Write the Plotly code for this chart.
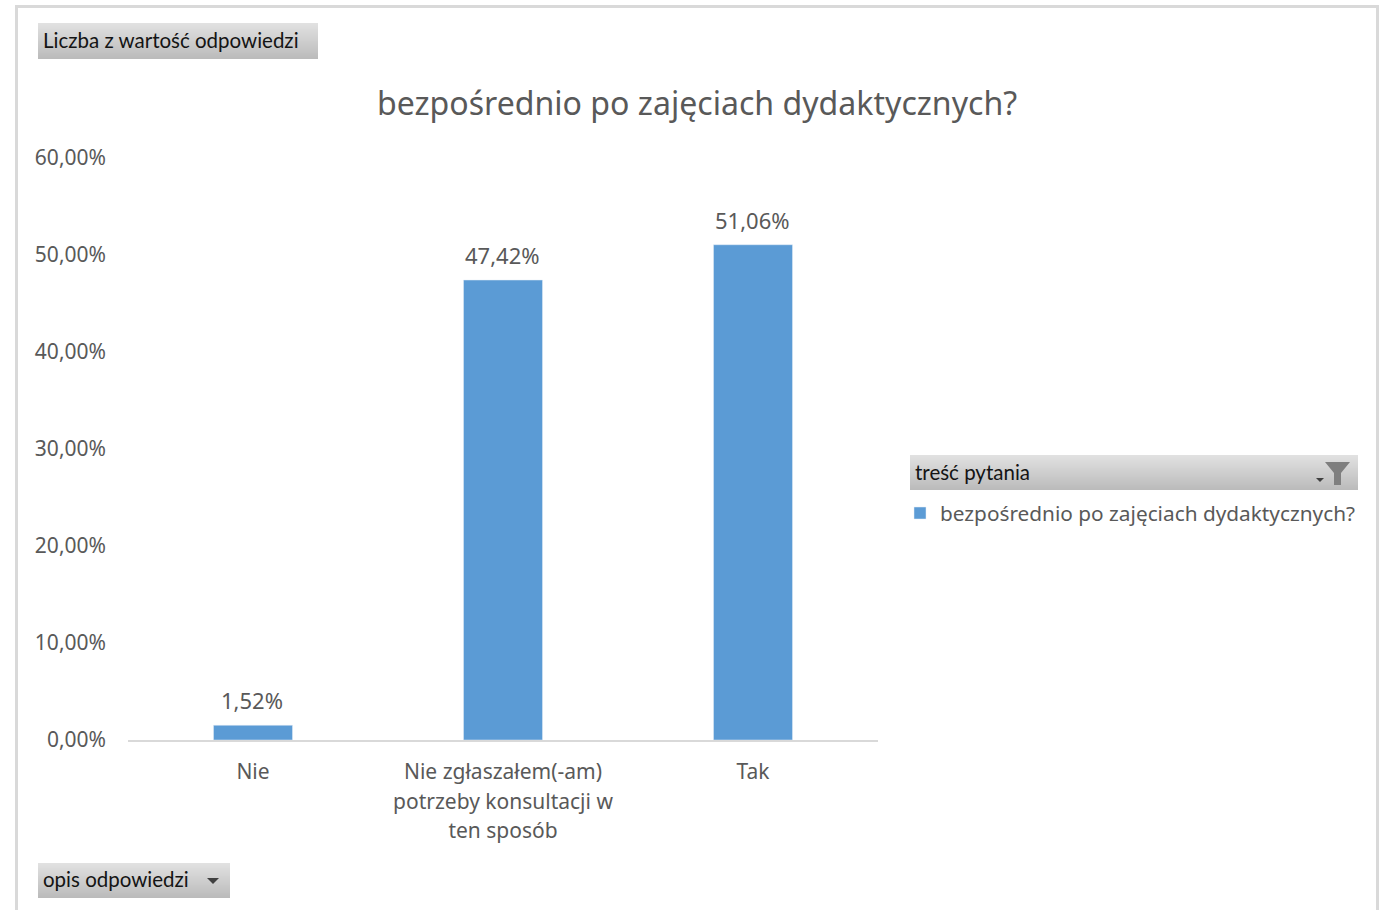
import plotly.graph_objects as go

categories = ["Nie", "Nie zgłaszałem(-am)<br>potrzeby konsultacji w<br>ten sposób", "Tak"]
values = [0.0152, 0.4742, 0.5106]
series_name = "bezpośrednio po zajęciach dydaktycznych?"
title_text = "bezpośrednio po zajęciach dydaktycznych?"
buttons = ["Liczba z wartość odpowiedzi", "treść pytania", "opis odpowiedzi"]

W, H = 1386, 910
L, R, T, B = 128, 878, 158, 740
GREY = "#595959"
CHART_FONT = "Noto Sans"
BTN_FONT = "Lato"


def px(x):
    return (x - L) / (R - L)


def py(y):
    return (B - y) / (B - T)


shapes = []
annotations = []


def rect(x0, y0, x1, y1, fill):
    shapes.append(dict(type="rect", xref="paper", yref="paper", x0=px(x0), x1=px(x1),
                       y0=py(y0), y1=py(y1), fillcolor=fill, line_width=0, layer="below"))


def gradient(x0, y0, x1, y1):
    n = int(y1 - y0)
    for i in range(n):
        t = i / max(n - 1, 1)
        v = round(225 - t * (225 - 187))
        rect(x0, y0 + i, x1, y0 + i + 1, f"rgb({v},{v},{v})")


def poly(points, fill):
    d = "M" + " L".join(f"{px(a):.5f},{py(b):.5f}" for a, b in points) + " Z"
    shapes.append(dict(type="path", xref="paper", yref="paper", path=d,
                       fillcolor=fill, line_width=0, layer="above"))


def label(x, y, text, size, font=BTN_FONT, color="#141414", anchor="left"):
    annotations.append(dict(xref="paper", yref="paper", x=px(x), y=py(y), text=text, showarrow=False,
                            xanchor=anchor, yanchor="middle", font=dict(family=font, size=size, color=color)))


# outer frame
rect(15, 5, 1379, 8, "#d9d9d9")
rect(15, 5, 18, 910, "#d9d9d9")
rect(1376, 5, 1379, 910, "#d9d9d9")

# pivot field buttons
gradient(38, 23, 318, 59)
label(41, 40, buttons[0], 20.5)
gradient(910, 455, 1358, 490)
label(913, 472, buttons[1], 20.5)
gradient(38, 863, 230, 898)
label(41, 879, buttons[2], 20.5)

# dropdown arrows and filter icon
poly([(207, 878), (219, 878), (213, 884)], "#404040")
poly([(1316, 478), (1324, 478), (1320, 482)], "#404040")
poly([(1325, 462), (1350, 462), (1341, 473), (1341, 485), (1334, 485), (1334, 473)], "#7f7f7f")

# chart title
label(697, 103, title_text, 32.1, font=CHART_FONT, color=GREY, anchor="center")

# data labels, placed from the values
for c, v in zip(categories, values):
    annotations.append(dict(xref="x", yref="y", x=c, y=v, yshift=25, xshift=-1, showarrow=False,
                            text=f"{v * 100:.2f}%".replace(".", ","), xanchor="center", yanchor="middle",
                            font=dict(family=CHART_FONT, size=22, color=GREY)))

fig = go.Figure(go.Bar(
    x=categories, y=values, name=series_name,
    marker=dict(color="#5B9BD5"),
    showlegend=True,
))
fig.update_layout(
    width=W, height=H, autosize=False,
    margin=dict(l=L, r=W - R, t=T, b=H - B, pad=0),
    paper_bgcolor="white", plot_bgcolor="white",
    bargap=0.684, separators=", ",
    shapes=shapes, annotations=annotations,
    font=dict(family=CHART_FONT, size=20, color=GREY),
    legend=dict(xref="paper", yref="paper", x=px(900), y=py(493), xanchor="left", yanchor="top",
                bgcolor="rgba(0,0,0,0)", font=dict(family=CHART_FONT, size=20.8, color=GREY)),
)
# tick font 23 gives the 30 px line pitch; the span keeps the glyphs at 21 px
fig.update_xaxes(showgrid=False, showline=True, linecolor="#d9d9d9", linewidth=2, ticks="",
                 tickmode="array", tickvals=categories,
                 ticktext=[f'<span style="font-size:21px">{c.replace("<br>", "</span><br><span style=%sfont-size:21px%s>" % (chr(34), chr(34)))}</span>' for c in categories],
                 ticklabelstandoff=9,
                 tickfont=dict(family=CHART_FONT, size=23, color=GREY), zeroline=False)
fig.update_yaxes(range=[0, 0.6], dtick=0.1, tickformat=".2%", showgrid=False, zeroline=False,
                 showline=False, ticks="", ticklabelstandoff=21,
                 tickfont=dict(family=CHART_FONT, size=21, color=GREY))

fig.write_html("out.html", config=dict(displayModeBar=False),
               post_script="document.body.style.margin='0';document.documentElement.style.overflow='hidden';")
